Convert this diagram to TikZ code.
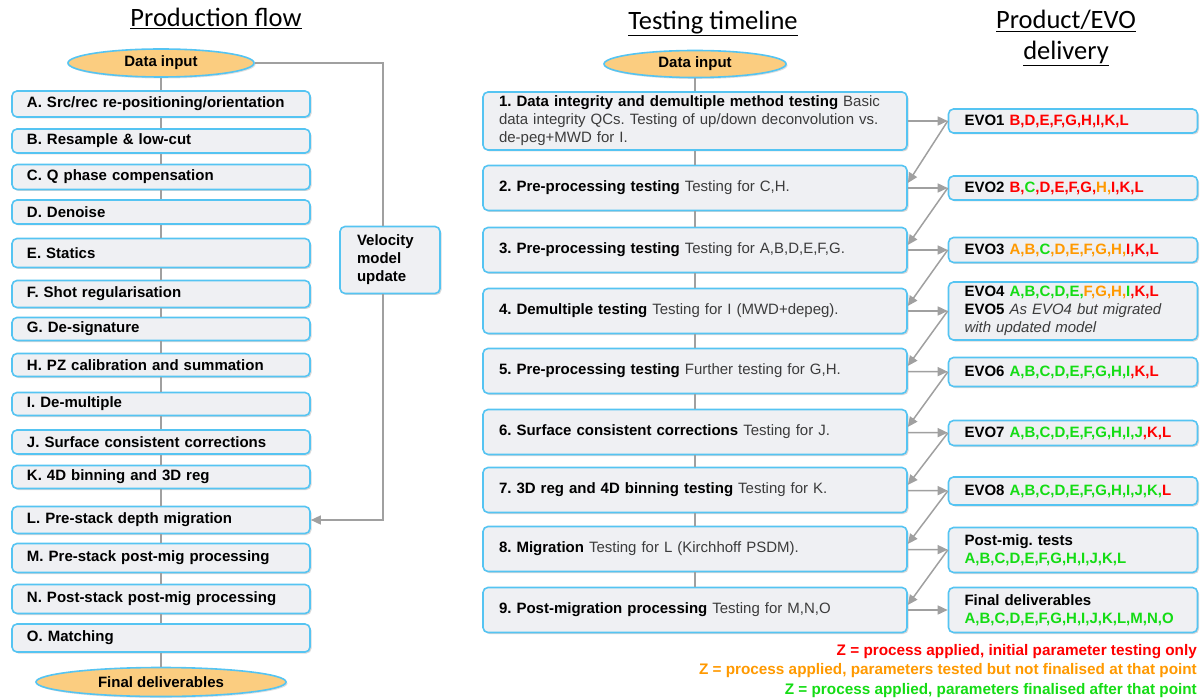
\documentclass[tikz,border=0pt]{standalone}
\usepackage{fontspec}
\setmainfont{Liberation Sans}
\newfontfamily\titlefont{Carlito}
\usetikzlibrary{shapes}
\usetikzlibrary{arrows.meta}
\usetikzlibrary{shadows}
\usepackage{xcolor}

\definecolor{boxline}{RGB}{85,196,242}
\definecolor{boxfill}{RGB}{239,240,243}
\definecolor{ovalfill}{RGB}{251,205,128}
\definecolor{connline}{RGB}{160,160,160}
\definecolor{txtgrey}{RGB}{60,60,60}
\definecolor{zred}{RGB}{255,0,0}
\definecolor{zorange}{RGB}{255,153,0}
\definecolor{zgreen}{RGB}{20,220,20}

\newcommand\bx{\fontsize{15}{18}\selectfont}
\newcommand\hd[1]{\textcolor{black}{\bfseries #1}}
\newcommand\zr[1]{\textcolor{zred}{#1}}
\newcommand\zo[1]{\textcolor{zorange}{#1}}
\newcommand\zg[1]{\textcolor{zgreen}{#1}}

\tikzset{
    ttl/.style={font=\titlefont\fontsize{26.5}{31}\selectfont, align=center},
    oval/.style={ellipse, draw=boxline, fill=ovalfill, line width=1.6pt, inner sep=0pt,
        font=\bfseries\bx, drop shadow={opacity=0.25, shadow xshift=1.5pt, shadow yshift=-1.5pt}},
    basebox/.style={draw=boxline, fill=boxfill, line width=1.6pt, rounded corners=5pt,
        inner ysep=0pt, align=left,
        drop shadow={opacity=0.3, shadow xshift=1.5pt, shadow yshift=-1.5pt}},
    pbox/.style={basebox, font=\bfseries\bx, text width=268pt, inner xsep=15pt},
    tbox/.style={basebox, font=\bx, text=txtgrey, text width=392pt, inner xsep=16pt, minimum height=45pt},
    ebox/.style={basebox, font=\bfseries\bx, text width=217pt, inner xsep=16pt},
    conn/.style={draw=connline, line width=1.5pt},
    arr/.style={conn, -{Triangle[length=10pt,width=9pt]}}
}

\begin{document}
\frenchspacing
\begin{tikzpicture}[x=1pt,y=-1pt]
    \useasboundingbox (0,0) rectangle (1201,700);

    % headings
    \node[ttl, anchor=base] (hprod) at (216,27) {\underline{Production flow}};
    \node[ttl, anchor=base] (htest) at (713,29.5) {\underline{Testing timeline}};
    \node[ttl] (hevo) at (1066,38) {\underline{Product/EVO}\\\underline{delivery}};

    % production flow
    \node[oval, minimum width=186pt, minimum height=28pt] (pin) at (161,63) {Data input};
    \foreach \n/\y/\h/\t in {A/104/26/{A. Src/rec re-positioning/orientation},
                             B/141/24/{B. Resample \& low-cut},
                             C/177/25/{C. Q phase compensation},
                             D/212/24/{D. Denoise},
                             E/253/29/{E. Statics},
                             F/294/27/{F. Shot regularisation},
                             G/329/23/{G. De-signature},
                             H/365/23/{H. PZ calibration and summation},
                             I/404/23/{I. De-multiple},
                             J/442/24/{J. Surface consistent corrections},
                             K/477/23/{K. 4D binning and 3D reg},
                             L/520/27/{L. Pre-stack depth migration},
                             M/558/29/{M. Pre-stack post-mig processing},
                             N/599/29/{N. Post-stack post-mig processing},
                             O/638/28/{O. Matching}}
        \node[pbox, minimum height=\h pt] (p\n) at (161,\y) {\t};
    \node[oval, minimum width=250pt, minimum height=29pt] (pout) at (161,682) {Final deliverables};
    \node[basebox, font=\bfseries\bx, text width=66pt, inner xsep=17pt, minimum height=67pt] (vel) at (390,260)
        {Velocity\\model\\update};
    \coordinate (veltop) at ([xshift=-7pt]vel.north);
    \coordinate (velbot) at ([xshift=-7pt]vel.south);

    \foreach \a/\b in {pin/pA,pA/pB,pB/pC,pC/pD,pD/pE,pE/pF,pF/pG,pG/pH,pH/pI,pI/pJ,pJ/pK,pK/pL,pL/pM,pM/pN,pN/pO,pO/pout}
        \draw[conn] (\a) -- (\b);
    \draw[conn] (pin) -| (veltop);
    \draw[arr] (velbot) |- (pL);

    % testing timeline
    \node[oval, minimum width=182pt, minimum height=27pt] (tin) at (695,64) {Data input};
    \foreach \n/\y/\h/\t in {1/121/58/{\hd{1. Data integrity and demultiple method testing} Basic\\data integrity QCs. Testing of up/down deconvolution vs.\\de-peg+MWD for I.},
                             2/188/45/{\hd{2. Pre-processing testing} Testing for C,H.},
                             3/250/45/{\hd{3. Pre-processing testing} Testing for A,B,D,E,F,G.},
                             4/311/45/{\hd{4. Demultiple testing} Testing for I (MWD+depeg).},
                             5/371/45/{\hd{5. Pre-processing testing} Further testing for G,H.},
                             6/432/45/{\hd{6. Surface consistent corrections} Testing for J.},
                             7/490/45/{\hd{7. 3D reg and 4D binning testing} Testing for K.},
                             8/549/45/{\hd{8. Migration} Testing for L (Kirchhoff PSDM).},
                             9/610/45/{\hd{9. Post-migration processing} Testing for M,N,O}}
        \node[tbox, minimum height=\h pt] (t\n) at (695,\y) {\t};
    \foreach \a/\b in {tin/t1,t1/t2,t2/t3,t3/t4,t4/t5,t5/t6,t6/t7,t7/t8,t8/t9}
        \draw[conn] (\a) -- (\b);

    % EVO delivery
    \foreach \n/\y/\h/\t in {1/121/24/{EVO1 \zr{B,D,E,F,G,H,I,K,L}},
                             2/188/24/{EVO2 \zr{B,}\zg{C}\zr{,D,E,F,G,}\zo{H,}\zr{I,K,L}},
                             3/250/25/{EVO3 \zo{A,B,}\zg{C}\zo{,D,E,F,G,H,}\zr{I,K,L}},
                             4/311/58/{EVO4 \zg{A,B,C,D,E,}\zo{F,G,H,}\zg{I}\zr{,K,L}\\EVO5 {\mdseries\itshape\color{txtgrey}As EVO4 but migrated}\\{\mdseries\itshape\color{txtgrey}with updated model}},
                             5/372/29/{EVO6 \zg{A,B,C,D,E,F,G,H,I}\zr{,K,L}},
                             6/433/25/{EVO7 \zg{A,B,C,D,E,F,G,H,I,J}\zr{,K,L}},
                             7/491/28/{EVO8 \zg{A,B,C,D,E,F,G,H,I,J,K,}\zr{L}},
                             8/550/45/{Post-mig. tests\\\zg{A,B,C,D,E,F,G,H,I,J,K,L}},
                             9/610/45/{Final deliverables\\\zg{A,B,C,D,E,F,G,H,I,J,K,L,M,N,O}}}
        \node[ebox, minimum height=\h pt] (e\n) at (1073,\y) {\t};
    \foreach \i in {1,...,9}
        \draw[arr] (t\i) -- (e\i);
    \foreach \i in {1,...,8}{
        \pgfmathtruncatemacro\j{\i+1}
        \draw[arr] (e\i.west) -- ([yshift=5pt]t\j.east);
    }

    % key
    \node[font=\bfseries\fontsize{15.3}{19.5}\selectfont, align=right, anchor=north east, inner sep=0pt] (key) at (1197,644)
        {\zr{Z = process applied, initial parameter testing only}\\
         \zo{Z = process applied, parameters tested but not finalised at that point}\\
         \zg{Z = process applied, parameters finalised after that point}};
\end{tikzpicture}
\end{document}
